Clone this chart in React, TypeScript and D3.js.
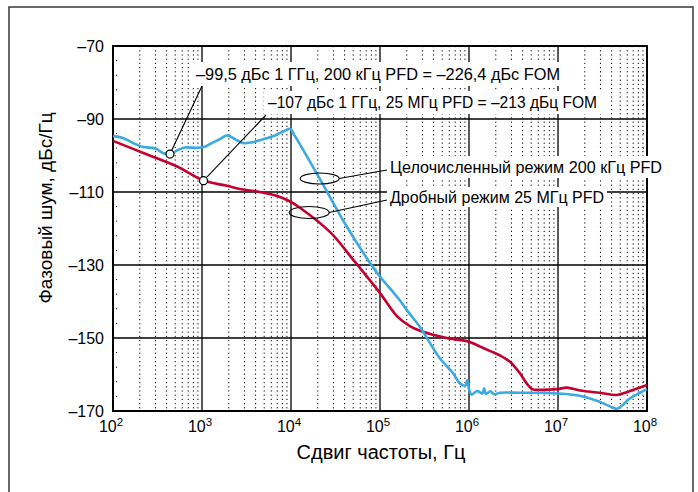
import React from "react";
import * as d3 from "d3";

const yTicks = [-70, -90, -110, -130, -150, -170];
const yMinorTicks = [-74, -78, -82, -86, -94, -98, -102, -106, -114, -118, -122, -126, -134, -138, -142, -146, -154, -158, -162, -166];
const xDecades = [2, 3, 4, 5, 6, 7, 8];

const blueFreq = [100, 129, 166, 219, 295, 363, 437, 537, 646, 871, 1072, 1288, 1585, 1905, 2344, 2884, 3631, 4467, 6607, 8511, 9772, 10965, 21380, 42660, 77620, 102300, 141300, 166000, 199500, 281800, 346700, 467700, 660700, 794300, 912000, 955000, 1000000, 1072000, 1230000, 1413000, 1479000, 1549000, 1738000, 1905000, 2239000, 3715000, 10000000, 19050000, 29510000, 40740000, 45710000, 52480000, 64570000, 83180000, 100000000];
const blueVal = [-94.7, -95.2, -96.5, -97.7, -98.0, -99.3, -99.6, -98.5, -97.8, -97.9, -97.6, -96.6, -95.5, -94.5, -95.5, -96.6, -96.4, -95.8, -94.5, -93.2, -92.7, -94.5, -106.7, -119.6, -129.5, -133.5, -137.5, -139.6, -142.3, -147, -150.5, -155.5, -159.6, -162.5, -163, -161.5, -164, -165.5, -164.5, -165.2, -163.8, -165.3, -164.6, -165.4, -165, -165, -165.2, -166, -167.5, -169, -169.4, -168.5, -166.5, -165, -164];

const redFreq = [100, 219, 525, 1023, 1905, 2884, 4467, 6607, 9772, 12590, 27540, 50120, 100000, 154900, 218800, 281800, 562300, 1000000, 1318000, 1738000, 2239000, 2884000, 3715000, 4467000, 5129000, 6310000, 9772000, 12590000, 17780000, 29510000, 45710000, 60260000, 100000000];
const redVal = [-96, -99.3, -103, -106.8, -108.3, -109.3, -110, -110.9, -112.6, -114.3, -121, -128.6, -137.7, -144, -146.8, -148, -150, -151, -152.3, -153.6, -154.8, -156.5, -159.6, -162.5, -164, -164.2, -164, -163.6, -164.4, -165, -165.6, -164.8, -162.9];

const markerFreq = [437, 1040];
const markerVal = [-99.6, -106.9];

const annText = [
  "–99,5 дБс 1 ГГц, 200 кГц PFD = –226,4 дБс FOM",
  "–107 дБс 1 ГГц, 25 МГц PFD = –213 дБц FOM",
];
const legendText = ["Целочисленный режим 200 кГц PFD", "Дробный режим 25 МГц PFD"];
const xTitle = "Сдвиг частоты, Гц";
const yTitle = "Фазовый шум, дБс/Гц";

const BLUE = "#3ba9e2";
const RED = "#c3002f";
const FONT = "'Liberation Sans', Arial, sans-serif";

export default function App() {
  const L = 113, R = 647, T = 46, B = 411;
  const x = d3.scaleLog().domain([1e2, 1e8]).range([L, R]);
  const y = d3.scaleLinear().domain([-170, -70]).range([B, T]);

  const line = d3
    .line<[number, number]>()
    .x((d) => x(d[0]))
    .y((d) => y(d[1]))
    .curve(d3.curveCatmullRom.alpha(0.5));

  const bluePath = line(blueFreq.map((f, i) => [f, blueVal[i]]) as [number, number][]) || "";
  const redPath = line(redFreq.map((f, i) => [f, redVal[i]]) as [number, number][]) || "";

  const minorX: number[] = [];
  for (let d = 2; d < 8; d++) {
    for (let m = 2; m <= 9; m++) minorX.push(m * Math.pow(10, d));
  }

  const m1x = x(markerFreq[0]), m1y = y(markerVal[0]);
  const m2x = x(markerFreq[1]), m2y = y(markerVal[1]);

  const e1x = x(21000), e1y = y(-106.3);
  const e2x = x(16000), e2y = y(-115.6);

  return (
    <svg
      width={698}
      height={492}
      style={{ position: "fixed", left: 0, top: 0, background: "#fff" }}
      fontFamily={FONT}
    >
      <rect x={0} y={0} width={698} height={492} fill="#fff" />
      <rect x={9} y={7} width={684} height={520} fill="none" stroke="#444" strokeWidth={1.6} />

      {minorX.map((f, i) => (
        <line key={"mx" + i} x1={x(f)} x2={x(f)} y1={T} y2={B} stroke="#000" strokeWidth={1} strokeDasharray="1.2,3" />
      ))}
      {yMinorTicks.map((v, i) => (
        <g key={"my" + i}>
          <line x1={L} x2={L + 4} y1={y(v)} y2={y(v)} stroke="#000" strokeWidth={1} strokeDasharray="1,2" />
          <line x1={R - 4} x2={R} y1={y(v)} y2={y(v)} stroke="#000" strokeWidth={1} strokeDasharray="1,2" />
        </g>
      ))}
      {xDecades.map((d) => (
        <line key={"gx" + d} x1={x(Math.pow(10, d))} x2={x(Math.pow(10, d))} y1={T} y2={B} stroke="#000" strokeWidth={1.3} />
      ))}
      {yTicks.map((v) => (
        <line key={"gy" + v} x1={L} x2={R} y1={y(v)} y2={y(v)} stroke="#000" strokeWidth={1.3} />
      ))}
      <rect x={L} y={T} width={R - L} height={B - T} fill="none" stroke="#000" strokeWidth={2} />

      <path d={redPath} fill="none" stroke={RED} strokeWidth={2.6} strokeLinejoin="round" />
      <path d={bluePath} fill="none" stroke={BLUE} strokeWidth={2.6} strokeLinejoin="round" />

      <line x1={m1x} y1={m1y} x2={202} y2={86} stroke="#000" strokeWidth={1.1} />
      <line x1={m2x} y1={m2y} x2={266} y2={115} stroke="#000" strokeWidth={1.1} />

      <ellipse cx={e1x} cy={e1y} rx={19.5} ry={5.5} fill="none" stroke="#000" strokeWidth={1.1} />
      <line x1={e1x + 19.5} y1={e1y} x2={387} y2={170} stroke="#000" strokeWidth={1.1} />
      <ellipse cx={e2x} cy={e2y} rx={20} ry={6} fill="none" stroke="#000" strokeWidth={1.1} />
      <line x1={e2x + 20} y1={e2y} x2={387} y2={200} stroke="#000" strokeWidth={1.1} />

      <rect x={192} y={62} width={372} height={24} fill="#fff" />
      <text x={196} y={74} dominantBaseline="central" fontSize={16} textLength={364} lengthAdjust="spacingAndGlyphs">{annText[0]}</text>
      <rect x={264} y={91} width={337} height={23} fill="#fff" />
      <text x={268} y={102} dominantBaseline="central" fontSize={16} textLength={329} lengthAdjust="spacingAndGlyphs">{annText[1]}</text>

      <rect x={387} y={156} width={278} height={22} fill="#fff" />
      <text x={390} y={167} dominantBaseline="central" fontSize={16} textLength={272} lengthAdjust="spacingAndGlyphs">{legendText[0]}</text>
      <rect x={387} y={187} width={220} height={20} fill="#fff" />
      <text x={390} y={197} dominantBaseline="central" fontSize={16} textLength={214} lengthAdjust="spacingAndGlyphs">{legendText[1]}</text>

      <circle cx={m1x} cy={m1y} r={4} fill="#fff" stroke="#000" strokeWidth={1.2} />
      <circle cx={m2x} cy={m2y} r={4} fill="#fff" stroke="#000" strokeWidth={1.2} />

      {yTicks.map((v) => (
        <text key={"yt" + v} x={104} y={y(v)} textAnchor="end" dominantBaseline="central" fontSize={16}>
          {"–" + Math.abs(v)}
        </text>
      ))}
      {xDecades.map((d) => (
        <text key={"xt" + d} x={x(Math.pow(10, d)) - 2} y={432} textAnchor="middle" fontSize={16}>
          10
          <tspan fontSize={11.5} dy={-6}>{d}</tspan>
        </text>
      ))}

      <text x={381} y={459} textAnchor="middle" fontSize={20}>{xTitle}</text>
      <text transform={`translate(52,208) rotate(-90)`} textAnchor="middle" fontSize={19}>
        {yTitle}
      </text>
    </svg>
  );
}
